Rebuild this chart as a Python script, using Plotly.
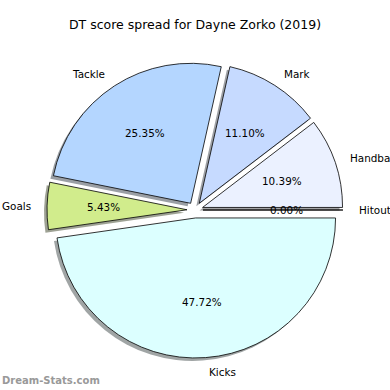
import math
import plotly.graph_objects as go

labels = ["Hitout", "Handball", "Mark", "Tackle", "Goals", "Kicks"]
values = [0.00, 10.39, 11.10, 25.35, 5.43, 47.72]
colors = ["#e6eeff", "#ebf1ff", "#c6daff", "#b4d6ff", "#d1ec8c", "#dcffff"]
title = "DT score spread for Dayne Zorko (2019)"
watermark = "Dream-Stats.com"

W = H = 390
PULL = 0.057
R = 140
CX, CY = 195, 210
half = R * (1 + PULL)
FONT = "DejaVu Sans"


def dom(dx=0, dy=0):
    x0 = (CX + dx - half) / W
    x1 = (CX + dx + half) / W
    y0 = 1 - (CY + dy + half) / H
    y1 = 1 - (CY + dy - half) / H
    return dict(x=[x0, x1], y=[y0, y1])


def shade(c):
    c = c.lstrip("#")
    r, g, b = (int(c[i:i + 2], 16) for i in (0, 2, 4))
    return f"rgba({int(r*0.3)},{int(g*0.3)},{int(b*0.3)},0.5)"


common = dict(
    labels=labels, values=values, sort=False, direction="counterclockwise",
    rotation=90, pull=[PULL] * len(values), hoverinfo="skip", showlegend=False,
    textinfo="none",
)

fig = go.Figure()
fig.add_trace(go.Pie(
    **common, domain=dom(-3, 3),
    marker=dict(colors=[shade(c) for c in colors], line=dict(width=0)),
))
fig.add_trace(go.Pie(
    **common, domain=dom(),
    marker=dict(colors=colors, line=dict(color="black", width=0.8)),
))

# text placed like matplotlib: labels at 1.1 r, percentages at 0.6 r
total = sum(values)
ann = []
start = 0.0
for lab, v in zip(labels, values):
    frac = v / total
    mid = math.radians((start + frac / 2) * 360)
    start += frac
    ox = CX + PULL * R * math.cos(mid)
    oy = CY - PULL * R * math.sin(mid)
    lx = ox + 1.1 * R * math.cos(mid)
    ly = oy - 1.1 * R * math.sin(mid)
    px = ox + 0.6 * R * math.cos(mid)
    py = oy - 0.6 * R * math.sin(mid)
    ann.append(dict(text=lab, x=lx / W, y=1 - ly / H, xref="paper", yref="paper",
                    xanchor="left" if math.cos(mid) > 0 else "right", yanchor="middle",
                    showarrow=False, font=dict(family=FONT, size=10.4, color="black")))
    ann.append(dict(text=f"{frac * 100:.2f}%", x=px / W, y=1 - py / H, xref="paper", yref="paper",
                    xanchor="center", yanchor="middle",
                    showarrow=False, font=dict(family=FONT, size=10.4, color="black")))

ann.append(dict(text=watermark, x=0, y=1 - 380 / H, xref="paper", yref="paper",
                xanchor="left", yanchor="middle", showarrow=False,
                font=dict(family=FONT, size=10, color="#999999", weight="bold")))

fig.update_layout(
    width=W, height=H, margin=dict(l=0, r=0, t=0, b=0),
    paper_bgcolor="white", plot_bgcolor="white",
    title=dict(text=title, x=0.5, xanchor="center", y=1 - 25 / H, yanchor="middle",
               font=dict(family=FONT, size=12.5, color="black")),
    annotations=ann,
)
fig.write_html("out.html", config={"displayModeBar": False},
               post_script="document.body.style.margin='0';document.body.style.overflow='hidden';")
